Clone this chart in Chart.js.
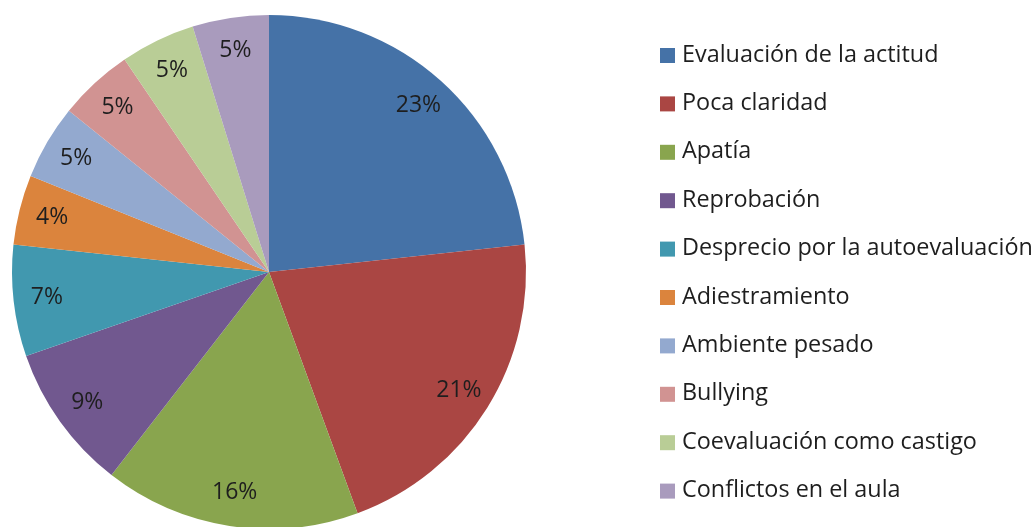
<!DOCTYPE html>
<html>
<head>
<meta charset="utf-8">
<script src="https://cdn.jsdelivr.net/npm/chart.js/dist/chart.umd.min.js"></script>
<style>
  html, body { margin: 0; padding: 0; background: #fff; overflow: hidden; }
  #wrap { position: relative; width: 1034px; height: 527px; }
</style>
</head>
<body>
<div id="wrap"><canvas id="myChart"></canvas></div>
<script>
// categories and values (percent of answers)
const categories = [
  "Evaluación de la actitud",
  "Poca claridad",
  "Apatía",
  "Reprobación",
  "Desprecio por la autoevaluación",
  "Adiestramiento",
  "Ambiente pesado",
  "Bullying",
  "Coevaluación como castigo",
  "Conflictos en el aula",
];
const values = [23.3, 21.1, 16.1, 9.2, 7.0, 4.4, 4.7, 4.7, 4.7, 4.8];
const colors = [
  "#4572A7", "#AA4643", "#89A54E", "#71588F", "#4198AF",
  "#DB843D", "#93A9CF", "#D19392", "#B9CD96", "#A99BBD",
];

const FONT = "'Open Sans', sans-serif";

// percentage labels inside each slice
const sliceLabels = {
  id: "sliceLabels",
  afterDatasetsDraw(chart) {
    const ctx = chart.ctx;
    const total = values.reduce((a, b) => a + b, 0);
    const meta = chart.getDatasetMeta(0);
    ctx.save();
    ctx.font = "23px " + FONT;
    ctx.fillStyle = "#1e1e1e";
    ctx.textAlign = "center";
    ctx.textBaseline = "middle";
    meta.data.forEach((arc, i) => {
      const p = arc.getProps(["x", "y", "startAngle", "endAngle", "outerRadius"], true);
      const mid = (p.startAngle + p.endAngle) / 2;
      const r = p.outerRadius * 0.87;
      const label = Math.round((values[i] / total) * 100) + "%";
      ctx.fillText(label, p.x + Math.cos(mid) * r, p.y + Math.sin(mid) * r);
    });
    ctx.restore();
  },
};

// legend drawn at the right, one row per category
const sideLegend = {
  id: "sideLegend",
  afterDraw(chart) {
    const ctx = chart.ctx;
    ctx.save();
    ctx.font = "23.4px " + FONT;
    ctx.textAlign = "left";
    ctx.textBaseline = "middle";
    categories.forEach((name, i) => {
      const y = 55 + i * 48.4;
      ctx.fillStyle = colors[i];
      ctx.fillRect(660, y - 7, 15, 15);
      ctx.fillStyle = "#1e1e1e";
      ctx.fillText(name, 682, y);
    });
    ctx.restore();
  },
};

const config = {
  type: "pie",
  data: {
    labels: categories,
    datasets: [
      {
        data: values,
        backgroundColor: colors,
        borderWidth: 0,
      },
    ],
  },
  options: {
    responsive: true,
    maintainAspectRatio: false,
    animation: false,
    radius: 257,
    layout: { padding: { left: 12, right: 508, top: 17, bottom: 0 } },
    plugins: {
      legend: { display: false },
      tooltip: { enabled: false },
    },
  },
  plugins: [sliceLabels, sideLegend],
};

new Chart(document.getElementById("myChart"), config);
</script>
</body>
</html>
